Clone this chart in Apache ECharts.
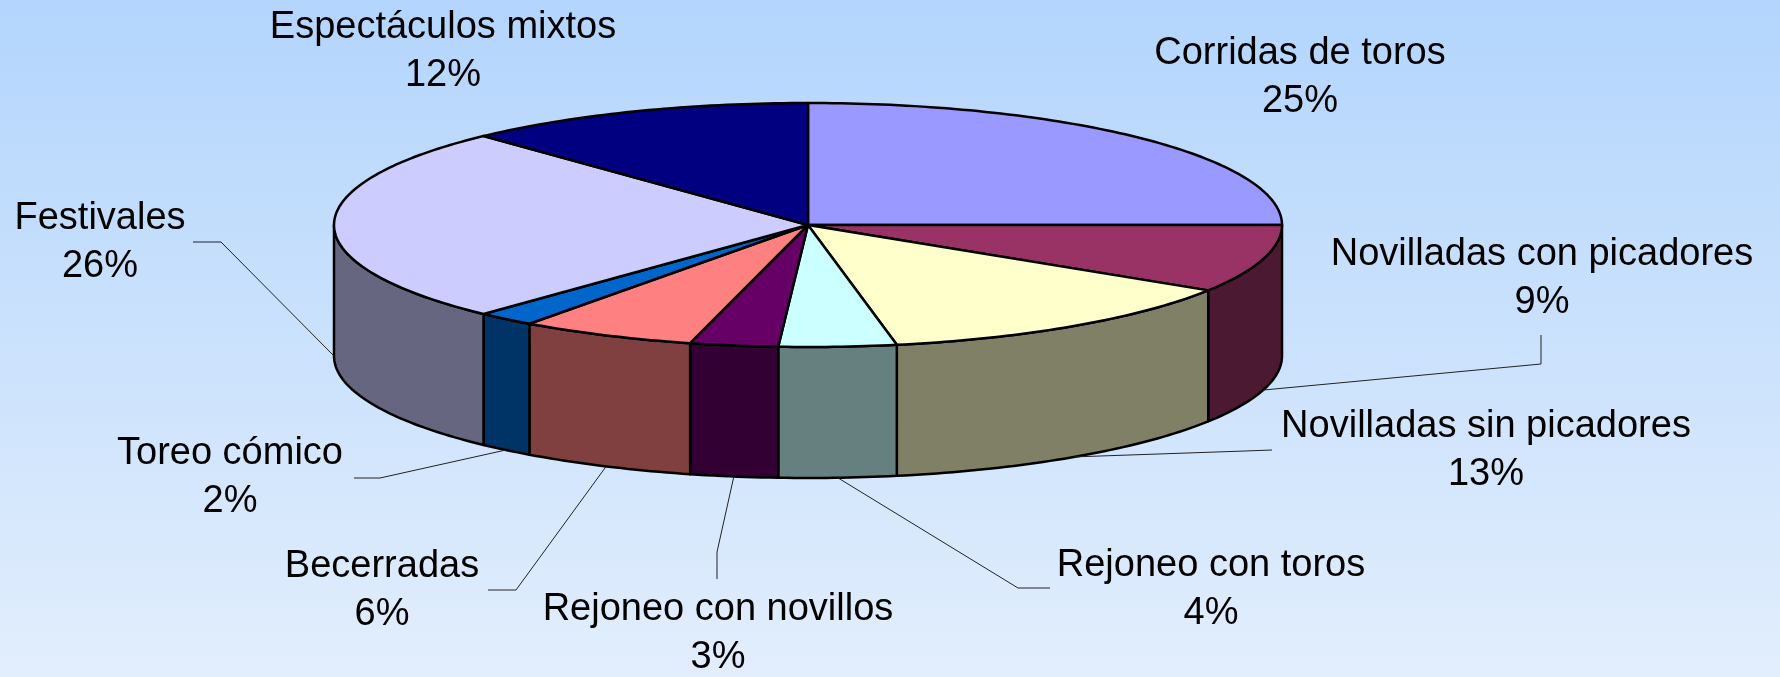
<!DOCTYPE html>
<html>
<head>
<meta charset="utf-8">
<script src="https://cdn.jsdelivr.net/npm/echarts@6/dist/echarts.min.js"></script>
<style>
  html, body { margin: 0; padding: 0; }
  #main { width: 1780px; height: 677px; }
</style>
</head>
<body>
<div id="main"></div>
<script>
// datos
var categories = ['Corridas de toros', 'Novilladas con picadores', 'Novilladas sin picadores',
  'Rejoneo con toros', 'Rejoneo con novillos', 'Becerradas', 'Toreo cómico', 'Festivales', 'Espectáculos mixtos'];
var values = [25, 9, 13, 4, 3, 6, 2, 26, 12];

// colores: cara superior y lateral
var topColors = ['#9999ff', '#993366', '#ffffcc', '#ccffff', '#660066', '#ff8080', '#0066cc', '#ccccff', '#000080'];
var sideColors = ['#4c4c80', '#4c1933', '#808066', '#668080', '#330033', '#804040', '#003366', '#666680', '#000040'];

// posicion de etiquetas (centro) y codo de la linea guia
var labelPos = [[1300, 78], [1542, 279], [1486, 451], [1211, 590], [718, 634], [382, 591], [230, 478], [100, 243], [443, 52]];
var leaderElbow = [null, [[1541, 335], [1541, 364]], [[1272, 450], [1245, 451]], [[1050, 588], [1018, 588]],
  [[717, 579], [717, 552]], [[488, 590], [516, 590]], [[354, 478], [380, 478]], [[193, 242], [221, 242]], null];

var pie = { cx: 808, cy: 225, rx: 474, ry: 122, depth: 131 };

var total = values.reduce(function (a, b) { return a + b; }, 0);
var starts = [];
values.reduce(function (acc, v, i) { starts[i] = acc; return acc + v; }, 0);

function pt(t, dy) {
  return [pie.cx + pie.rx * Math.sin(t), pie.cy - pie.ry * Math.cos(t) + (dy || 0)];
}
function arc(a, b, dy) {
  var pts = [];
  var n = Math.max(2, Math.ceil((b - a) / (Math.PI / 180)));
  for (var i = 0; i <= n; i++) pts.push(pt(a + (b - a) * i / n, dy));
  return pts;
}

var chart = echarts.init(document.getElementById('main'));
var option = {
  animation: false,
  backgroundColor: {
    type: 'linear', x: 0, y: 0, x2: 0, y2: 1,
    colorStops: [{ offset: 0, color: '#b3d5fd' }, { offset: 1, color: '#e2eefc' }]
  },
  series: [{
    type: 'custom',
    coordinateSystem: 'none',
    silent: true,
    data: values,
    renderItem: function (params, api) {
      var i = params.dataIndex;
      var v = api.value(0);
      var a0 = starts[i] / total * Math.PI * 2;
      var a1 = (starts[i] + v) / total * Math.PI * 2;
      var children = [];
      // cara superior
      children.push({
        type: 'polygon', z2: 10,
        shape: { points: [[pie.cx, pie.cy]].concat(arc(a0, a1, 0)) },
        style: { fill: topColors[i], stroke: '#000', lineWidth: 2.5, lineJoin: 'round' }
      });
      // lateral (solo la mitad frontal)
      var s = Math.max(a0, Math.PI / 2), e = Math.min(a1, Math.PI * 1.5);
      if (e > s) {
        children.push({
          type: 'polygon', z2: 5,
          shape: { points: arc(s, e, 0).concat(arc(s, e, pie.depth).reverse()) },
          style: { fill: sideColors[i], stroke: '#000', lineWidth: 2.5, lineJoin: 'round' }
        });
      }
      // linea guia
      if (leaderElbow[i]) {
        var mid = (a0 + a1) / 2;
        children.push({
          type: 'polyline', z2: 15,
          shape: { points: leaderElbow[i].concat([pt(mid, pie.depth)]) },
          style: { stroke: '#222', lineWidth: 1, fill: null }
        });
      }
      // etiqueta
      children.push({
        type: 'text', z2: 20,
        x: labelPos[i][0], y: labelPos[i][1],
        style: {
          text: categories[i] + '\n' + v + '%',
          fontFamily: '"Liberation Sans", Arial, sans-serif',
          fontSize: 38, lineHeight: 48,
          fill: '#000', align: 'center', verticalAlign: 'middle'
        }
      });
      return { type: 'group', children: children };
    }
  }]
};
chart.setOption(option);
</script>
</body>
</html>
